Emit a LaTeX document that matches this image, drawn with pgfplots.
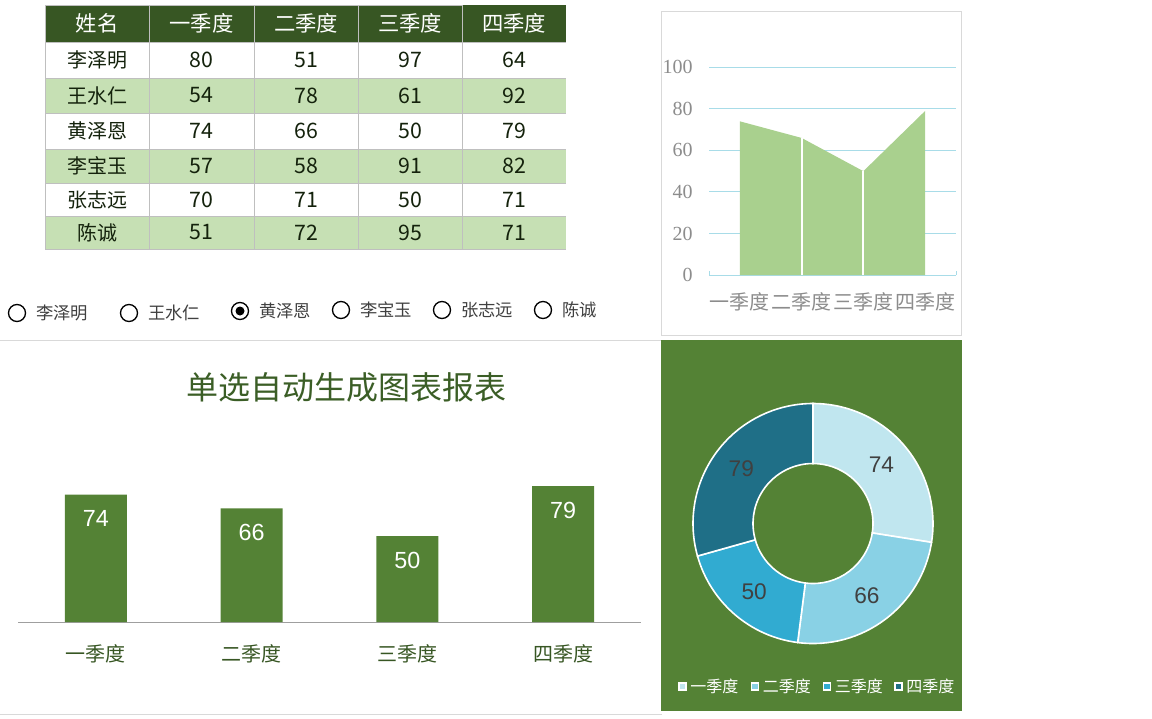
\documentclass[border=0pt]{standalone}
\usepackage{fontspec}
\setmainfont{Noto Sans CJK SC}
\newfontfamily\arialf{Liberation Sans}
\newfontfamily\seriff{Liberation Serif}
\usepackage{pgfplots}
\usepackage{pgfplotstable}
\pgfplotsset{compat=1.18}
\definecolor{hdr}{HTML}{375623}
\definecolor{rowg}{HTML}{C6E0B4}
\definecolor{gridg}{HTML}{BFBFBF}
\definecolor{areag}{HTML}{A9D08E}
\definecolor{gblue}{HTML}{A8DCE8}
\definecolor{lgray}{HTML}{8C8C8C}
\definecolor{barg}{HTML}{548235}
\definecolor{ttlg}{HTML}{3B5E26}
\definecolor{panelg}{HTML}{548235}
\definecolor{d1}{HTML}{C0E6EF}
\definecolor{d2}{HTML}{89D1E5}
\definecolor{d3}{HTML}{31ABD1}
\definecolor{d4}{HTML}{1F6F87}
\definecolor{boxg}{HTML}{D9D9D9}
\definecolor{lbl}{HTML}{404040}
\definecolor{txt}{HTML}{14220C}
\newcommand\fs[1]{\fontsize{#1}{#1}\selectfont}

\pgfplotstableread{
q v
0 74
1 66
2 50
3 79
}\sel

\pgfplotstablegetelem{0}{v}\of\sel \edef\va{\pgfplotsretval}
\pgfplotstablegetelem{1}{v}\of\sel \edef\vb{\pgfplotsretval}
\pgfplotstablegetelem{2}{v}\of\sel \edef\vc{\pgfplotsretval}
\pgfplotstablegetelem{3}{v}\of\sel \edef\vd{\pgfplotsretval}
\pgfmathsetmacro\tot{\va+\vb+\vc+\vd}
\pgfmathsetmacro\aA{90-360*(\va/\tot)}
\pgfmathsetmacro\aB{\aA-360*(\vb/\tot)}
\pgfmathsetmacro\aC{\aB-360*(\vc/\tot)}
\pgfmathsetmacro\mA{(90+\aA)/2}
\pgfmathsetmacro\mB{(\aA+\aB)/2}
\pgfmathsetmacro\mC{(\aB+\aC)/2}
\pgfmathsetmacro\mD{(\aC-270)/2}

\begin{document}
\begin{tikzpicture}[x=0.75pt,y=-0.75pt]
\useasboundingbox (0,0) rectangle (1152,718);
\coordinate (AREA) at (709,275);
\coordinate (BAR) at (18,622);
\coordinate (DON) at (813,523.5);
% ---------- table ----------
\fill[hdr] (45,5) rectangle (566,42);
\fill[rowg] (45,78) rectangle (566,113);
\fill[rowg] (45,149) rectangle (566,183);
\fill[rowg] (45,216) rectangle (566,249);
\foreach \y in {42,78,113,149,183,216,249} \draw[gridg,line width=0.75pt] (45,\y) -- (566,\y);
\foreach \x in {45,149,254,358,462} \draw[gridg,line width=0.75pt] (\x,5) -- (\x,249);
\draw[gridg,line width=0.75pt] (45,5) -- (462,5);
\foreach \x/\t in {97/姓名,201.5/一季度,306/二季度,410/三季度,514/四季度}
  \node[white,font=\fs{16pt},inner sep=0pt] at (\x,23.5) {\t};
\foreach \y/\n/\a/\b/\c/\d in {60/李泽明/80/51/97/64, 95.5/王水仁/54/78/61/92, 131/黄泽恩/74/66/50/79, 166/李宝玉/57/58/91/82, 199.5/张志远/70/71/50/71, 232.5/陈诚/51/72/95/71}{
  \node[txt,font=\fs{15pt},inner sep=0pt] at (97,\y) {\n};
  \node[txt,font=\fs{16pt},inner sep=0pt] at (201.5,\y) {\a};
  \node[txt,font=\fs{16pt},inner sep=0pt] at (306,\y) {\b};
  \node[txt,font=\fs{16pt},inner sep=0pt] at (410,\y) {\c};
  \node[txt,font=\fs{16pt},inner sep=0pt] at (514,\y) {\d};
}
% ---------- radio buttons ----------
\foreach \cx/\cy/\n in {17/313/李泽明,129/313/王水仁,240/311/黄泽恩,341/310/李宝玉,442/310/张志远,543/310/陈诚}{
  \draw[black,line width=1pt] (\cx,\cy) circle[radius=8.5];
  \node[anchor=west,inner sep=0pt,font=\fs{13pt},text=lbl] at (\cx+19,\cy) {\n};
}
\fill[black] (240,311) circle[radius=4.5];
% ---------- frames ----------
\draw[boxg,line width=0.75pt] (661.5,11.5) rectangle (961.5,335);
\draw[boxg,line width=0.75pt] (0,340.5) -- (662,340.5);
\draw[boxg,line width=0.75pt] (0,714.5) -- (662,714.5);
\fill[panelg] (661,340) rectangle (962,711);
% ---------- area chart ----------
\begin{axis}[at={(AREA)}, anchor=south west, scale only axis,
  width=185.25pt, height=155.75pt,
  xmin=0, xmax=4, ymin=0, ymax=100,
  axis x line*=bottom, axis y line*=left,
  x axis line style={gblue, line width=0.75pt},
  y axis line style={draw=none},
  ytick={0,20,...,100}, ymajorgrids, grid style={gblue, line width=0.75pt},
  xtick={0.5,1.5,2.5,3.5}, xticklabels={一季度,二季度,三季度,四季度},
  minor xtick={0,1,2,3,4}, tick align=inside, major tick length=0pt,
  minor tick length=3pt, minor tick style={gblue, line width=0.75pt},
  xticklabel style={font=\fs{15pt}, text=lgray, anchor=center, yshift=-20pt, inner sep=0pt},
  yticklabel style={font=\seriff\fs{15pt}, text=lgray, inner sep=0pt, anchor=east, xshift=-12pt},
  /pgf/number format/assume math mode=true]
\addplot[fill=areag, draw=none] table[x expr=\thisrow{q}+0.5, y=v]{\sel} \closedcycle;
\addplot[white, line width=1.5pt, ycomb, skip coords between index={0}{1}, skip coords between index={3}{4}] table[x expr=\thisrow{q}+0.5, y=v]{\sel};
\end{axis}
% ---------- bar chart ----------
\node[text=ttlg,font=\fs{24pt},inner sep=0pt] at (346,387) {单选自动生成图表报表};
\begin{axis}[at={(BAR)}, anchor=south west, scale only axis,
  width=467.25pt, height=129pt,
  xmin=-0.5, xmax=3.5, ymin=0, ymax=100,
  axis x line*=bottom, axis y line=none,
  x axis line style={gray!75, line width=0.75pt},
  xtick={0,1,2,3}, xticklabels={一季度,二季度,三季度,四季度}, major tick length=0pt,
  xticklabel style={font=\fs{15pt}, text=hdr, anchor=center, yshift=-24pt, inner sep=0pt},
  ytick=\empty, clip=false,
  /pgf/number format/assume math mode=true]
\addplot[ybar, bar width=46.5pt, fill=barg, draw=none, nodes near coords,
  nodes near coords style={font=\arialf\fs{17.5pt}, text=white, anchor=center, yshift=-18pt}]
  table[x=q,y=v]{\sel};
\end{axis}
% ---------- donut ----------
\begin{axis}[at={(DON)}, anchor=center, scale only axis,
  width=180pt, height=180pt, xmin=-1, xmax=1, ymin=-1, ymax=1, hide axis, clip=false]
\filldraw[fill=d1, draw=white, line width=1.2pt, shift={(axis cs:0,0)}]
  (90:90pt) arc[start angle=90, end angle=\aA, radius=90pt] -- (\aA:45pt) arc[start angle=\aA, end angle=90, radius=45pt] -- cycle;
\filldraw[fill=d2, draw=white, line width=1.2pt, shift={(axis cs:0,0)}]
  (\aA:90pt) arc[start angle=\aA, end angle=\aB, radius=90pt] -- (\aB:45pt) arc[start angle=\aB, end angle=\aA, radius=45pt] -- cycle;
\filldraw[fill=d3, draw=white, line width=1.2pt, shift={(axis cs:0,0)}]
  (\aB:90pt) arc[start angle=\aB, end angle=\aC, radius=90pt] -- (\aC:45pt) arc[start angle=\aC, end angle=\aB, radius=45pt] -- cycle;
\filldraw[fill=d4, draw=white, line width=1.2pt, shift={(axis cs:0,0)}]
  (\aC:90pt) arc[start angle=\aC, end angle=-270, radius=90pt] -- (-270:45pt) arc[start angle=-270, end angle=\aC, radius=45pt] -- cycle;
\node[font=\arialf\fs{17pt}, text=lbl, shift={(axis cs:0,0)}] at (\mA:67.5pt) {\va};
\node[font=\arialf\fs{17pt}, text=lbl, shift={(axis cs:0,0)}] at (\mB:67.5pt) {\vb};
\node[font=\arialf\fs{17pt}, text=lbl, shift={(axis cs:0,0)}] at (\mC:67.5pt) {\vc};
\node[font=\arialf\fs{17pt}, text=lbl, shift={(axis cs:0,0)}] at (\mD:67.5pt) {\vd};
\end{axis}
% ---------- donut legend ----------
\foreach \cx/\c/\t in {682.5/d1/一季度, 755/d2/二季度, 827/d3/三季度, 898.5/d4/四季度}{
  \filldraw[fill=\c, draw=white, line width=1pt] (\cx-3.5,683) rectangle (\cx+3.5,690);
  \node[anchor=west, text=white, font=\fs{12pt}, inner sep=0pt] at (\cx+7.5,686.5) {\t};
}
\end{tikzpicture}
\end{document}
